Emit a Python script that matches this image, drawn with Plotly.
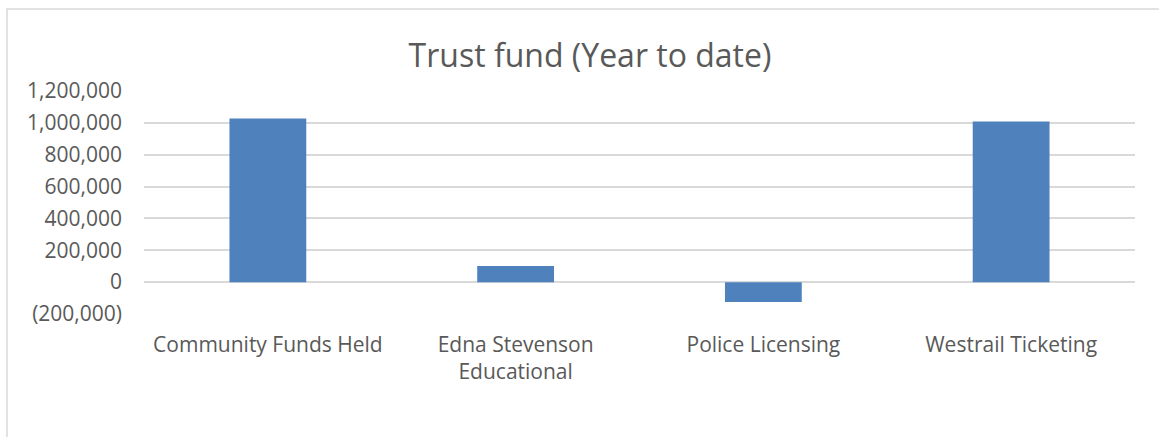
import plotly.graph_objects as go

categories = ["Community Funds Held", "Edna Stevenson<br>Educational", "Police Licensing", "Westrail Ticketing"]
values = [1027000, 102000, -125000, 1008000]
tick_vals = [-200000, 0, 200000, 400000, 600000, 800000, 1000000, 1200000]
tick_text = ["(200,000)", "0", "200,000", "400,000", "600,000", "800,000", "1,000,000", "1,200,000"]

W, H = 1159, 437
L, R, T, B = 144, 24, 91, 123
pw, ph = W - L - R, H - T - B

fig = go.Figure(go.Bar(x=categories, y=values, marker=dict(color="#4f81bd", line=dict(width=0)), width=0.31))

fig.update_layout(
    width=W, height=H,
    margin=dict(l=L, r=R, t=T, b=B),
    paper_bgcolor="white", plot_bgcolor="white",
    font=dict(family="Open Sans", color="#595959", size=21),
    title=dict(text="Trust fund (Year to date)", x=(590 - L) / pw, xref="paper", xanchor="center",
               y=1 - 56 / H, yanchor="middle", font=dict(size=32, color="#595959")),
    showlegend=False,
    xaxis=dict(showgrid=False, showline=False, ticks="", ticklabelstandoff=16),
    yaxis=dict(range=[-200000, 1200000], tickvals=tick_vals, ticktext=tick_text,
               showgrid=True, gridcolor="#d9d9d9", gridwidth=1.5,
               zeroline=True, zerolinecolor="#d9d9d9", zerolinewidth=1.5,
               showline=False, ticks="", ticklabelstandoff=21),
    shapes=[dict(type="rect", xref="paper", yref="paper",
                 x0=(7 - L) / pw, x1=(1170 - L) / pw,
                 y0=(H - B - 450) / ph, y1=(H - B - 9) / ph,
                 line=dict(color="#d9d9d9", width=1.5), fillcolor="rgba(0,0,0,0)", layer="below")],
)

fig.write_html("out.html")
